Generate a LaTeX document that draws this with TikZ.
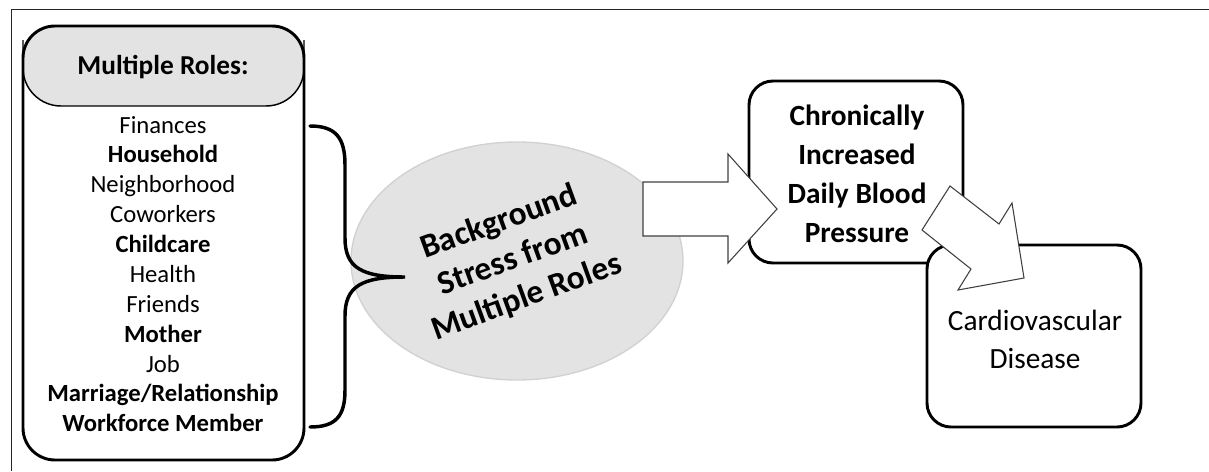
\documentclass[tikz,border=0pt]{standalone}
\usepackage{fontspec}
\setmainfont{Carlito}
\usetikzlibrary{shapes.geometric}
\begin{document}
\begin{tikzpicture}[x=0.75pt,y=-0.75pt,
  thickbox/.style={draw=black,line width=2.2pt,fill=white,rounded corners=18pt,
    minimum width=160.5pt,minimum height=136.5pt,inner sep=0pt},
  blockarrow/.style={draw=black!75,line width=0.8pt,fill=white,line join=miter},
  listtext/.style={align=center,font=\fontsize{18.5}{22.4}\selectfont},
  titletext/.style={align=center,font=\bfseries\fontsize{22}{29.25}\selectfont},
  plaintext/.style={align=center,font=\fontsize{22}{28.5}\selectfont},
]
\useasboundingbox (0,0) rectangle (1209,471);

% outer frame (only the top and left edges fall inside the page)
\draw[line width=1.1pt,black!85] (11.5,471) -- (11.5,9.5) -- (1209,9.5);

% soft grey ellipse with the rotated caption
\node[ellipse,fill=black!11,draw=black!18,line width=1pt,
      minimum width=249pt,minimum height=178.5pt] (stress) at (517,261) {};
\node[align=center,rotate=20,font=\bfseries\fontsize{25}{30}\selectfont]
      (stresstext) at (513,260) {Background\\Stress from\\Multiple Roles};

% list of roles: header band, frame, items
\begin{scope}
  \clip[rounded corners=24pt] (23,26) rectangle (304,460);
  \fill[black!11,rounded corners=28.5pt] (23,-30) rectangle (304,106);
\end{scope}
\draw[line width=1.1pt,rounded corners=28.5pt] (23,40) -- (23,106) -- (304,106) -- (304,40);
\draw[line width=2.2pt,rounded corners=24pt] (23,26) rectangle (304,460);
\node[font=\bfseries\fontsize{20.5}{24}\selectfont] (header) at (163,67) {Multiple Roles:};
\node[listtext] (roles) at (163,274) {Finances\\\textbf{Household}\\Neighborhood\\Coworkers\\
  \textbf{Childcare}\\Health\\Friends\\\textbf{Mother}\\Job\\
  \textbf{Marriage/Relationship}\\\textbf{Workforce Member}};

% curly brace gathering the roles
\coordinate (bracetop) at (310,126);
\coordinate (bracetip) at (405,277);
\coordinate (bracebot) at (310,427);
\draw[line width=2.6pt,line cap=round]
  (bracetop) .. controls (336,126) and (345,138) .. (345,165) -- (345,238)
  .. controls (345,268) and (362,277) .. (bracetip)
  .. controls (362,277) and (345,286) .. (345,316) -- (345,390)
  .. controls (345,416) and (336,427) .. (bracebot);

% outcome boxes
\node[thickbox] (bp) at (856,172) {};
\node[titletext] (bptext) at (857,174) {Chronically\\Increased\\Daily Blood\\Pressure};

% block arrow into the blood-pressure box
\draw[blockarrow] (643,182) -- (728,182) -- (728,154) -- (777,209)
  -- (728,263) -- (728,236) -- (643,236) -- cycle;

\node[thickbox] (cvd) at (1034,336) {};
\node[plaintext] (cvdtext) at (1035,339) {Cardiovascular\\Disease};

% diagonal block arrow from blood pressure to disease
\draw[blockarrow] (922,230) -- (950,186) -- (999,224) -- (1012,203)
  -- (1024,278) -- (958,290) -- (971,269) -- cycle;
\end{tikzpicture}
\end{document}
